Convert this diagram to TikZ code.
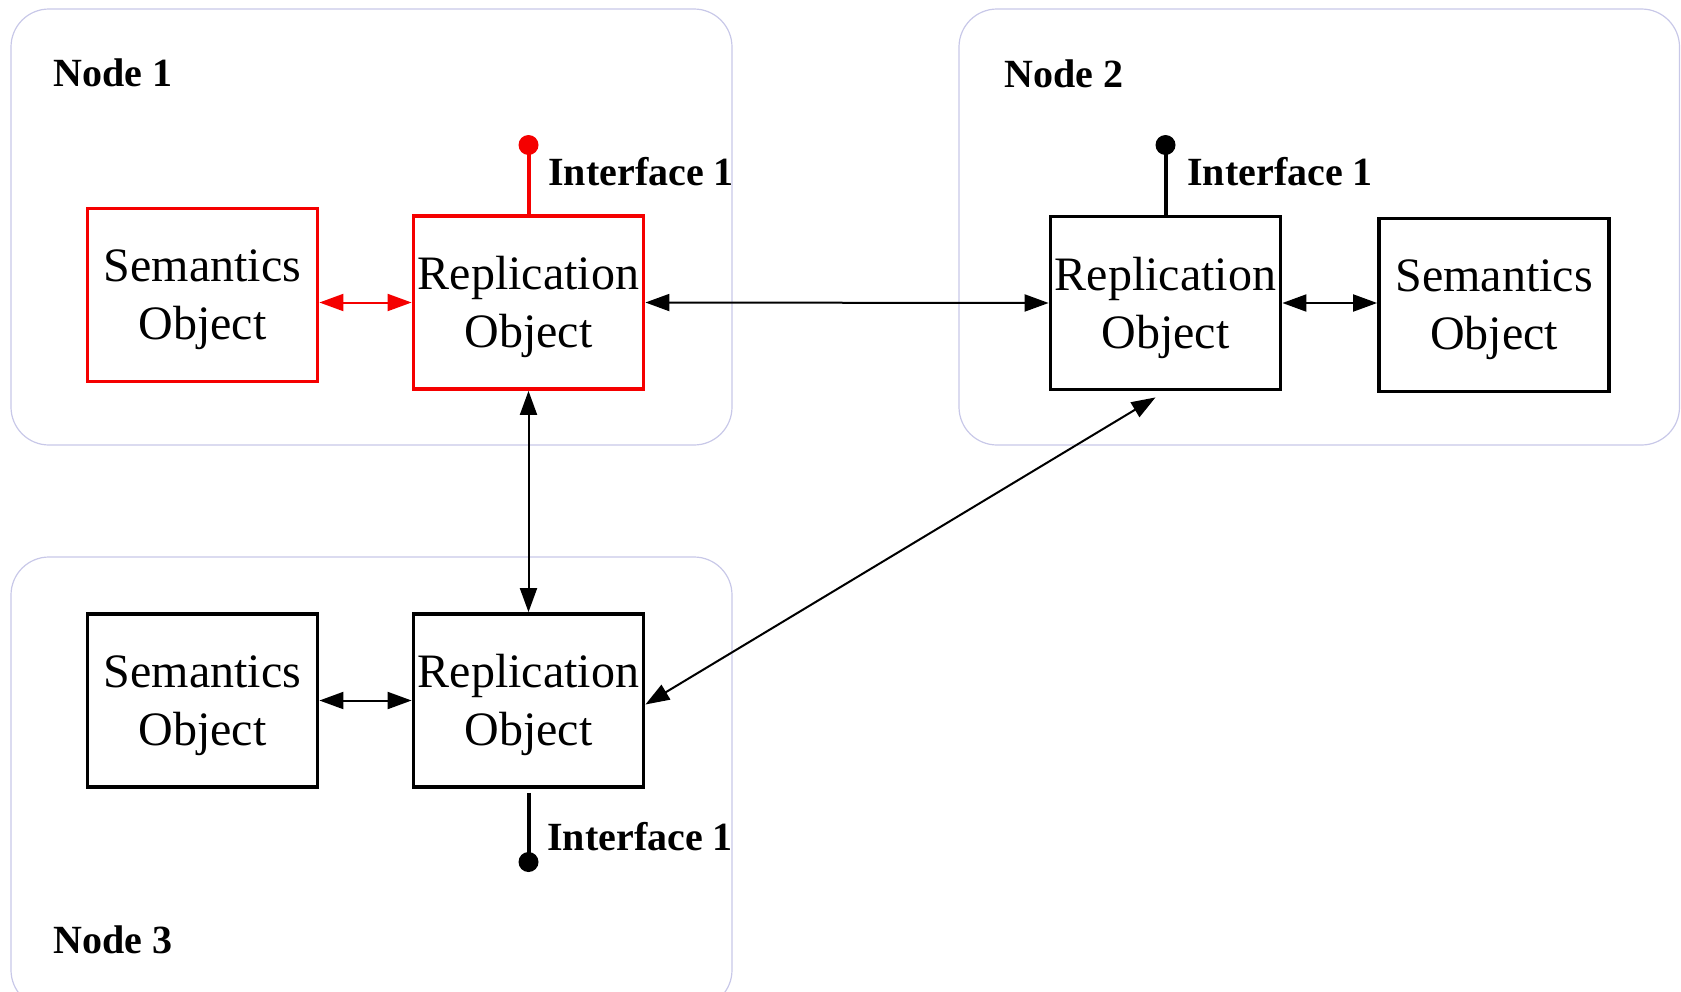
\documentclass[tikz,border=0pt]{standalone}
\usepackage{fontspec}
\setmainfont{Liberation Serif}
\usetikzlibrary{arrows.meta,calc}

\definecolor{frame}{RGB}{200,200,232}
\definecolor{hot}{RGB}{245,0,0}

\begin{document}
\begin{tikzpicture}[x=0.5pt,y=-0.5pt,
  region/.style={draw=frame, line width=0.6pt, rounded corners=19pt,
    minimum width=360.5pt, inner sep=0pt},
  obj/.style={draw, line width=1.9pt, minimum width=115pt, minimum height=86.5pt,
    inner sep=0pt},
  objtext/.style={inner sep=0pt, align=center, font=\fontsize{24}{29}\selectfont},
  link/.style={line width=1pt,
    {Triangle[length=12pt,width=8.5pt]}-{Triangle[length=12pt,width=8.5pt]}},
  stub/.style={line width=2pt},
  tag/.style={anchor=base west, inner sep=0pt, font=\fontsize{20}{24}\selectfont\bfseries},
]
\useasboundingbox (0,0) rectangle (1681,991);
\clip (0,0) rectangle (1681,991);

% node regions
\node[region, minimum height=218pt] (N1) at (371.5,227) {};
\node[region, minimum width=360.25pt, minimum height=218pt] (N2) at (1319.25,227) {};
\node[region, minimum height=225.5pt] (N3) at (371.5,782.5) {};

\node[tag] (N1lbl) at (53,86) {Node 1};
\node[tag] (N2lbl) at (1004,87) {Node 2};
\node[tag] (N3lbl) at (53,953) {Node 3};

% objects
\node[obj, draw=hot] (S1) at (202.5,295) {};
\node[obj, draw=hot] (R1) at (528.5,302.5) {};
\node[obj] (R2) at (1165.5,303) {};
\node[obj] (S2) at (1494,305) {};
\node[obj] (S3) at (202.5,700.5) {};
\node[obj] (R3) at (528.5,700.5) {};

\node[objtext] (S1t) at ([yshift=-2.6pt]S1.center) {Semantics\\Object};
\node[objtext] (R1t) at ([yshift=-2.4pt]R1.center) {Replication\\Object};
\node[objtext] (R2t) at ([yshift=-2.4pt]R2.center) {Replication\\Object};
\node[objtext] (S2t) at ([yshift=-2.4pt]S2.center) {Semantics\\Object};
\node[objtext] (S3t) at ([yshift=-2.4pt]S3.center) {Semantics\\Object};
\node[objtext] (R3t) at ([yshift=-2.4pt]R3.center) {Replication\\Object};

% links between objects
\draw[link, hot] (S1.east |- R1.west) -- (R1.west);
\draw[link] (R1.east) -- (R2.west);
\draw[link] (R1.south) -- (R3.north);
\draw[link] (R2.east) -- (R2.east -| S2.west);
\draw[link] (S3.east) -- (R3.west);
\coordinate (d2) at ([xshift=-5pt,yshift=-3pt]R2.south);
\coordinate (d3) at ([yshift=-2pt]R3.east);
\draw[link] (d3) -- (d2);

% interfaces
\coordinate (I1) at (528.5,145);
\draw[stub, hot] (R1.north) -- (I1);
\fill[hot] (I1) circle[radius=5pt];
\node[tag] (I1lbl) at (548,185) {Interface 1};

\coordinate (I2) at (1165.5,145);
\draw[stub] (R2.north) -- (I2);
\fill (I2) circle[radius=5pt];
\node[tag] (I2lbl) at (1187,185) {Interface 1};

\coordinate (I3t) at ([yshift=-2pt]R3.south);
\coordinate (I3) at (528.5,862);
\draw[stub] (I3t) -- (I3);
\fill (I3) circle[radius=5pt];
\node[tag] (I3lbl) at (547,850) {Interface 1};
\end{tikzpicture}
\end{document}
